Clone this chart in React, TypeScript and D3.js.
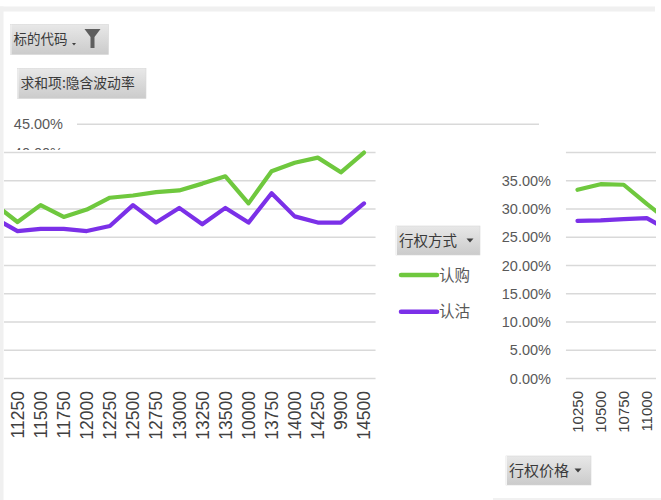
import React from "react";
import * as d3 from "d3";

const categories = ["10250","10500","10750","11000","11250","11500","11750","12000","12250","12500","12750","13000","13250","13500","10000","13750","14000","14250","9900","14500"];
const callValues = [33.4, 34.4, 34.3, 30.9, 27.7, 30.7, 28.6, 29.9, 32.0, 32.4, 33.0, 33.3, 34.5, 35.8, 31.0, 36.7, 38.2, 39.1, 36.5, 40.0];
const putValues = [27.9, 28.0, 28.2, 28.4, 26.1, 26.5, 26.5, 26.1, 27.0, 30.7, 27.6, 30.2, 27.3, 30.2, 27.6, 32.8, 28.7, 27.6, 27.6, 31.0];
const yTicks = [0, 5, 10, 15, 20, 25, 30, 35, 40];
const bgTicks = [45, 40];
const seriesNames = ["认购", "认沽"];
const seriesColors = ["#6fc83e", "#7b30e8"];

const W = 661, H = 500;
const STEP = 23.1;
const NUM = "'Liberation Sans', Arial, sans-serif";
const CJK = "'Noto Sans CJK SC', 'Liberation Sans', sans-serif";
const TXT = "#595959";
const GRID = "#d9d9d9";

const y = d3.scaleLinear().domain([0, 45]).range([378.5, 124.3]);
const x = d3.scalePoint<string>().domain(categories).range([0, (categories.length - 1) * STEP]);
const fmt = (v: number) => v.toFixed(2) + "%";

const lineGen = d3.line<number>().x((_, i) => x(categories[i]) as number).y((v) => y(v));

function Button({ x0, y0, w, h, label, size, arrowX }: any) {
  return (
    <g>
      <rect x={x0} y={y0} width={w} height={h} fill="url(#btnGrad)" stroke="#d6d6d6" strokeWidth={0.6} />
      <line x1={x0 + 0.5} y1={y0} x2={x0 + 0.5} y2={y0 + h} stroke="#f4f4f4" strokeWidth={1} />
      <text x={x0 + 3} y={y0 + h / 2} dy="0.36em" fontFamily={CJK} fontSize={size} fill="#3a3a3a">{label}</text>
      {arrowX != null && (
        <path d={`M${arrowX - 3.5},${y0 + h / 2 - 2} L${arrowX + 3.5},${y0 + h / 2 - 2} L${arrowX},${y0 + h / 2 + 2} Z`} fill="#404040" />
      )}
    </g>
  );
}

function Panel({ offset, clipId, labelSize, visMin, visMax, showY }: any) {
  const left = -STEP / 2, right = (categories.length - 1) * STEP + STEP / 2;
  const visible = (c: string) => {
    const sx = (x(c) as number) + offset;
    return sx - 8 >= visMin && sx + 8 <= visMax;
  };
  return (
    <g clipPath={`url(#${clipId})`}>
      <g transform={`translate(${offset},0)`}>
        {yTicks.map((t) => (
          <line key={t} x1={left} x2={right} y1={y(t)} y2={y(t)} stroke={GRID} strokeWidth={1.6} />
        ))}
        {showY && yTicks.filter((t) => t <= 35).map((t) => (
          <text key={t} x={left - 15} y={y(t)} dy="0.35em" textAnchor="end" fontFamily={NUM} fontSize={14.5} fill={TXT}>{fmt(t)}</text>
        ))}
        {[callValues, putValues].map((vals, si) => (
          <path key={si} d={lineGen(vals) as string} fill="none" stroke={seriesColors[si]} strokeWidth={4.2} strokeLinejoin="round" strokeLinecap="round" />
        ))}
        {categories.filter(visible).map((c) => (
          <text key={c} transform={`translate(${x(c)},${391}) rotate(-90)`} dy="0.36em" textAnchor="end" fontFamily={NUM} fontSize={labelSize} fill="#404040">{c}</text>
        ))}
      </g>
    </g>
  );
}

export default function App() {
  return (
    <svg width={W} height={H} style={{ position: "absolute", left: 0, top: 0, background: "#fff" }}>
      <defs>
        <linearGradient id="btnGrad" x1="0" y1="0" x2="0" y2="1">
          <stop offset="0" stopColor="#e8e8e8" />
          <stop offset="1" stopColor="#cbcbcb" />
        </linearGradient>
        <clipPath id="clipL"><rect x={4} y={150} width={372} height={350} /></clipPath>
        <clipPath id="clipR"><rect x={490} y={140} width={166} height={360} /></clipPath>
      </defs>
      <rect x={0} y={0} width={W} height={H} fill="#fff" />
      <rect x={0} y={6.5} width={655} height={5} fill="#f0f0f0" />
      <rect x={0} y={6.5} width={3.5} height={H} fill="#f0f0f0" />

      {/* background chart layer */}
      {bgTicks.map((t) => (
        <text key={t} x={63} y={y(t)} dy="0.35em" textAnchor="end" fontFamily={NUM} fontSize={14.5} fill={TXT}>{fmt(t)}</text>
      ))}
      <line x1={77} x2={539} y1={y(45)} y2={y(45)} stroke={GRID} strokeWidth={1.6} />

      {/* buttons */}
      <Button x0={10.5} y0={24.5} w={98} h={30} label="标的代码" size={13.5} />
      <path d="M72,43 L76,43 L74,45.5 Z" fill="#404040" />
      <path d="M84.5,29 L100.5,29 L94.5,37 L94.5,48 L90.5,48 L90.5,37 Z" fill="#5e5e5e" />
      <Button x0={17.5} y0={68.5} w={128.5} h={30} label="求和项:隐含波动率" size={13.8} />

      {/* left panel */}
      <rect x={4} y={150} width={372} height={350} fill="#fff" />
      <Panel offset={17.5 - 4 * STEP} clipId="clipL" labelSize={17.5} visMin={4} visMax={376} showY={false} />

      {/* right panel */}
      <Panel offset={577.5} clipId="clipR" labelSize={15} visMin={490} visMax={656} showY={true} />

      {/* legend */}
      <Button x0={396} y0={226} w={84} h={29} label="行权方式" size={14.5} arrowX={470} />
      {seriesNames.map((n, i) => (
        <g key={n}>
          <line x1={401} x2={437} y1={275 + i * 36.7} y2={275 + i * 36.7} stroke={seriesColors[i]} strokeWidth={4.5} strokeLinecap="round" />
          <text x={439} y={275 + i * 36.7} dy="0.36em" fontFamily={CJK} fontSize={15.5} fill={TXT}>{n}</text>
        </g>
      ))}

      {/* x axis field button */}
      <Button x0={506} y0={456} w={85} h={29} label="行权价格" size={15} arrowX={578} />
      <line x1={493} x2={W} y1={499} y2={499} stroke="#e3e3e3" strokeWidth={1.2} />
    </svg>
  );
}
